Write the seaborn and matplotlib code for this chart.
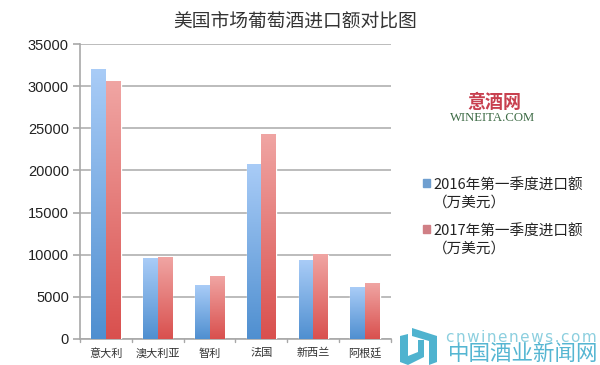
import numpy as np
import pandas as pd
import matplotlib
matplotlib.use("Agg")
import matplotlib.pyplot as plt
from matplotlib.colors import LinearSegmentedColormap
from matplotlib.patches import Polygon, Patch
import seaborn as sns

categories = ["意大利", "澳大利亚", "智利", "法国", "新西兰", "阿根廷"]
values_2016 = [32000, 9500, 6400, 20700, 9300, 6100]
values_2017 = [30600, 9650, 7400, 24300, 10000, 6600]
series_names = ["2016年第一季度进口额\n（万美元）", "2017年第一季度进口额\n（万美元）"]
yticks = [0, 5000, 10000, 15000, 20000, 25000, 30000, 35000]
title = "美国市场葡萄酒进口额对比图"

sns.set_theme(style="white")
CJK = ["Noto Sans CJK SC", "DejaVu Sans"]
plt.rcParams["font.family"] = CJK

df = pd.DataFrame({
    "country": categories * 2,
    "value": values_2016 + values_2017,
    "series": [series_names[0]] * 6 + [series_names[1]] * 6,
})

W, H = 600, 365
fig = plt.figure(figsize=(6, 3.65), dpi=100, facecolor="white")
ax = fig.add_axes([80 / W, 1 - 339 / H, 311 / W, 295 / H])
sns.barplot(data=df, x="country", y="value", hue="series", order=categories,
            hue_order=series_names, palette=["#7fb0e8", "#e87f7f"],
            width=0.565, gap=0, saturation=1, errorbar=None, ax=ax, legend=False, zorder=3)

ax.set_ylim(0, 35000)
ax.set_xlim(-0.5, 5.5)
ax.set_yticks(yticks)
ax.set_xlabel("")
ax.set_ylabel("")
ax.grid(axis="y", color="#b0b0b0", lw=1.2, zorder=0)
ax.set_axisbelow(True)
for s in ["top", "right"]:
    ax.spines[s].set_visible(False)
for s in ["left", "bottom"]:
    ax.spines[s].set_color("#a8a8a8")
    ax.spines[s].set_linewidth(1.2)
ax.tick_params(axis="y", length=5, width=1.2, color="#a8a8a8", pad=3, left=True,
               labelsize=10.5, labelcolor="#222222")
ax.tick_params(axis="x", length=0, pad=6.5, labelsize=8, labelcolor="#333333")
for lb in ax.get_yticklabels():
    lb.set_fontfamily(["Liberation Sans", "DejaVu Sans"])
for x in np.arange(-0.5, 6, 1):
    ax.plot([x, x], [0, -350], color="#a8a8a8", lw=1, clip_on=False)

# vertical gradient painted inside each bar
blue = LinearSegmentedColormap.from_list("b", ["#4f8fd0", "#a9ccf7"])
red = LinearSegmentedColormap.from_list("r", ["#d9504e", "#f0a5a3"])
grad = np.linspace(0, 1, 256).reshape(-1, 1)
bars = [p for p in ax.patches if p.get_height() > 0]
for i, p in enumerate(bars):
    im = ax.imshow(grad, origin="lower", aspect="auto", cmap=blue if i < 6 else red, zorder=4,
                   extent=[p.get_x(), p.get_x() + p.get_width(), 0, p.get_height()])
ax.set_xlim(-0.5, 5.5)
ax.set_ylim(0, 35000)

fig.text(295 / W, 1 - 22 / H, title, ha="center", va="center", fontsize=13.5, color="#333333")

# legend
leg = fig.legend(handles=[Patch(color="#6f9fd0"), Patch(color="#d07f85")], labels=series_names,
                 loc="upper left", bbox_to_anchor=(423 / W, 1 - 179 / H), frameon=False,
                 fontsize=10.5, labelcolor="#222222", handlelength=0.5, handleheight=0.5,
                 handletextpad=0.2, labelspacing=1.06, borderpad=0, borderaxespad=0)
for column in leg._legend_handle_box.get_children():
    for row in column.get_children():
        row.align = "top"

# site marks
fig.text(494 / W, 1 - 102 / H, "意酒网", ha="center", va="center", fontsize=13,
         color="#c8404f", fontweight="bold")
fig.text(493 / W, 1 - 118 / H, "WINEITA.COM", ha="center", va="center", fontsize=9.2,
         color="#3d6b45", family="Liberation Serif")
fig.text(521 / W, 1 - 337 / H, "\u200a".join("cnwinenews.com"), ha="center", va="center", fontsize=11,
         color="#8ccfdf", family="DejaVu Sans")
fig.text(523 / W, 1 - 354 / H, "中国酒业新闻网", ha="center", va="center", fontsize=15.5,
         color="#55b6d2")

def px(pts):
    return [(x / W, 1 - y / H) for x, y in pts]

for shape in [
    [(400, 336), (408, 334), (408, 356), (418, 352), (418, 340), (424, 340), (424, 357), (408, 365), (400, 362)],
    [(412, 328), (437, 336), (437, 362), (429, 365), (429, 341), (412, 336)],
]:
    fig.add_artist(Polygon(px(shape), closed=True, transform=fig.transFigure, color="#4fb3cf", lw=0))

fig.savefig("out.png", dpi=100)
